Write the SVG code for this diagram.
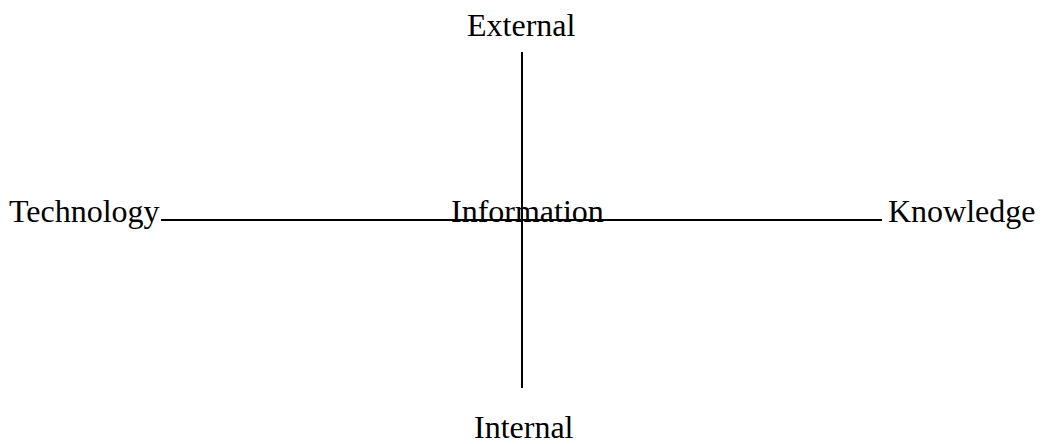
<svg xmlns="http://www.w3.org/2000/svg" width="1042" height="444" viewBox="0 0 1042 444">
<style>
.t{font-family:"Liberation Serif","Times New Roman",serif;font-size:32px;fill:#000}
.ln{stroke:#000;stroke-width:2;fill:none}
</style>
<rect width="1042" height="444" fill="#fff"/>
<g id="connectors">
<line class="ln" x1="161" y1="220" x2="882" y2="220"/>
<line class="ln" x1="522" y1="52" x2="522" y2="388"/>
</g>
<g id="external"><text class="t" x="467" y="36">External</text></g>
<g id="technology"><text class="t" x="9" y="222">Technology</text></g>
<g id="information"><text class="t" x="451" y="222">Information</text></g>
<g id="knowledge"><text class="t" x="888" y="222">Knowledge</text></g>
<g id="internal"><text class="t" x="474" y="438">Internal</text></g>
</svg>
